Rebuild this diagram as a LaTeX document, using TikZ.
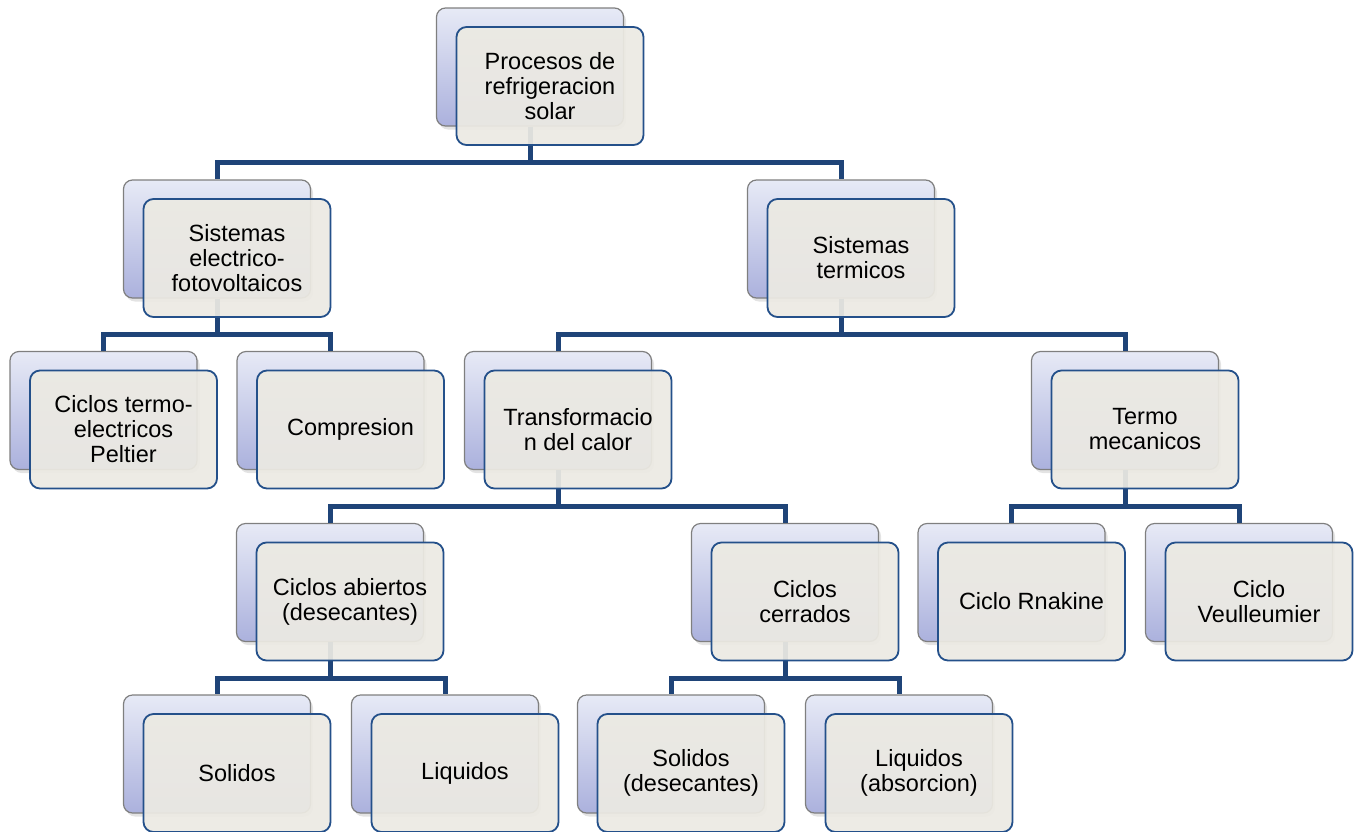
\documentclass[tikz,border=0pt]{standalone}
\usepackage{fontspec}
\setmainfont{Liberation Sans}
\usetikzlibrary{calc,shadows}
\definecolor{backtop}{HTML}{E7EAF6}
\definecolor{backbot}{HTML}{ABB1DD}
\definecolor{backline}{HTML}{7F7F7F}
\definecolor{frontfill}{HTML}{ECEAE3}
\definecolor{frontline}{HTML}{24508A}
\definecolor{connline}{HTML}{1F4478}
\tikzset{
  backbox/.style={rectangle, rounded corners=9pt, minimum width=187pt, minimum height=118pt,
    inner sep=0pt, draw=backline, line width=1.2pt, top color=backtop, bottom color=backbot,
    drop shadow={opacity=0.22, shadow xshift=2.5pt, shadow yshift=-3.5pt}},
  frontbox/.style={rectangle, rounded corners=10pt, minimum width=187pt, minimum height=118pt,
    inner sep=0pt, draw=frontline, line width=1.8pt, fill=frontfill, fill opacity=0.93,
    text opacity=1, draw opacity=1, align=center, text=black,
    font=\fontsize{23.5}{25}\selectfont},
  conn/.style={draw=connline, line width=5pt}
}
\newcommand\mybk[3]{\node[backbox] (#1-b) at (#2,#3) {};}
\newcommand\myfr[2]{\node[frontbox] (#1) at ($(#1-b.center)+(20,19)$) {#2};}
\newcommand\myconn[2]{\draw[conn] (#1-b.south) -- ++(0,36) -| (#2-b.north);}
\begin{document}
\begin{tikzpicture}[x=1pt,y=-1pt]
\useasboundingbox (0,0) rectangle (1358,831);
% back boxes
\mybk{top}{530}{67}
\mybk{sef}{217}{239}
\mybk{ster}{841}{239}
\mybk{pelt}{103.5}{410.5}
\mybk{comp}{330.5}{410.5}
\mybk{trans}{558}{410.5}
\mybk{termo}{1125}{410.5}
\mybk{abier}{330}{582.5}
\mybk{cerr}{785}{582.5}
\mybk{rank}{1011.5}{582.5}
\mybk{veul}{1239}{582.5}
\mybk{solA}{217}{754}
\mybk{liqA}{445}{754}
\mybk{solB}{671}{754}
\mybk{liqB}{899}{754}
% connectors
\myconn{top}{sef}
\myconn{top}{ster}
\myconn{sef}{pelt}
\myconn{sef}{comp}
\myconn{ster}{trans}
\myconn{ster}{termo}
\myconn{trans}{abier}
\myconn{trans}{cerr}
\myconn{termo}{rank}
\myconn{termo}{veul}
\myconn{abier}{solA}
\myconn{abier}{liqA}
\myconn{cerr}{solB}
\myconn{cerr}{liqB}
% front boxes
\myfr{top}{Procesos de\\refrigeracion\\solar}
\myfr{sef}{Sistemas\\electrico-\\fotovoltaicos}
\myfr{ster}{Sistemas\\termicos}
\myfr{pelt}{Ciclos termo-\\electricos\\Peltier}
\myfr{comp}{Compresion}
\myfr{trans}{Transformacio\\n del calor}
\myfr{termo}{Termo\\mecanicos}
\myfr{abier}{Ciclos abiertos\\(desecantes)}
\myfr{cerr}{Ciclos\\cerrados}
\myfr{rank}{Ciclo Rnakine}
\myfr{veul}{Ciclo\\Veulleumier}
\myfr{solA}{Solidos}
\myfr{liqA}{Liquidos}
\myfr{solB}{Solidos\\(desecantes)}
\myfr{liqB}{Liquidos\\(absorcion)}
\end{tikzpicture}
\end{document}
